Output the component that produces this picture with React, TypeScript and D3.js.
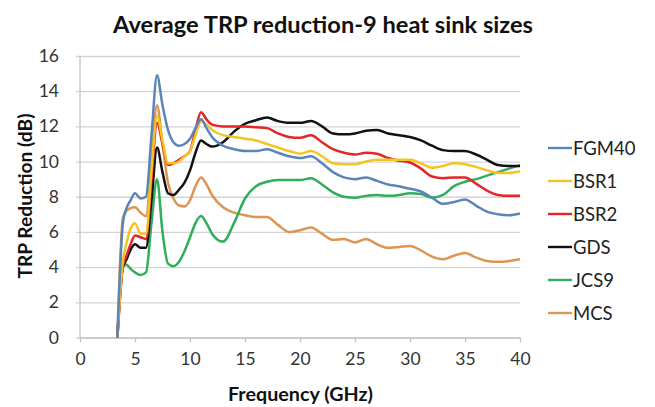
import React, { useEffect, useRef } from "react";
import * as d3 from "d3";

// frequency points (GHz) shared by all series
const freq = [
  3.4, 3.9, 4.2, 4.6, 5, 5.5, 6, 6.5, 7, 7.5, 8, 8.5, 9, 9.5, 10, 10.5, 11, 11.5, 12,
  13, 14, 15, 16, 17, 18, 19, 20, 21, 22, 23, 24, 25, 26, 27, 28, 29, 30, 31, 32, 33,
  34, 35, 36, 37, 38, 39, 40,
];

const fgm40 = [
  0, 6.5, 7.3, 7.8, 8.2, 7.9, 8.0, 11.5, 14.9, 13.2, 11.8, 11.1, 10.9, 11.0, 11.3, 11.9, 12.4, 11.9, 11.4,
  10.9, 10.7, 10.6, 10.6, 10.7, 10.5, 10.3, 10.2, 10.3, 9.9, 9.4, 9.1, 9.0, 9.1, 8.9, 8.7, 8.6, 8.45, 8.3, 7.95, 7.6,
  7.7, 7.85, 7.5, 7.15, 7.0, 6.95, 7.05,
];
const bsr1 = [
  0, 4.3, 5.3, 6.2, 6.5, 5.9, 5.9, 9.5, 12.6, 11.2, 9.9, 9.9, 10.0, 10.3, 10.6, 11.5, 12.3, 12.1, 11.8,
  11.5, 11.4, 11.3, 11.2, 11.0, 10.8, 10.6, 10.45, 10.6, 10.3, 9.9, 9.85, 9.85, 10.0, 10.1, 10.1, 10.1, 10.1, 9.9, 9.65, 9.75,
  9.9, 9.85, 9.7, 9.5, 9.35, 9.35, 9.45,
];
const bsr2 = [
  0, 4.1, 4.6, 5.3, 5.8, 5.7, 5.6, 9.0, 12.2, 11.0, 9.8, 9.9, 10.1, 10.3, 10.6, 11.8, 12.8, 12.4, 12.1,
  12.0, 12.0, 12.0, 11.95, 11.9, 11.6, 11.4, 11.35, 11.5, 11.1, 10.7, 10.5, 10.4, 10.5, 10.45, 10.2, 10.05, 9.95, 9.6, 9.15, 9.05,
  9.1, 9.1, 8.75, 8.35, 8.1, 8.05, 8.05,
];
const gds = [
  0, 4.0, 4.4, 5.0, 5.3, 5.1, 5.1, 7.8, 10.8, 9.4, 8.2, 8.1, 8.4, 8.8, 9.5, 10.5, 11.2, 11.0, 10.85,
  11.1, 11.7, 12.15, 12.35, 12.5, 12.3, 12.2, 12.2, 12.3, 12.0, 11.6, 11.55, 11.6, 11.75, 11.8, 11.6, 11.5, 11.4, 11.2, 10.9, 10.65,
  10.6, 10.6, 10.4, 10.1, 9.8, 9.75, 9.75,
];
const jcs9 = [
  0, 4.0, 4.15, 3.9, 3.7, 3.55, 3.7, 6.5, 9.0, 6.0, 4.2, 4.05, 4.3, 4.9, 5.7, 6.5, 6.9, 6.5, 5.9,
  5.45, 6.5, 7.9, 8.6, 8.85, 8.95, 8.95, 8.95, 9.05, 8.7, 8.25, 8.0, 7.95, 8.05, 8.1, 8.05, 8.1, 8.2, 8.15, 7.95, 8.1,
  8.6, 8.85, 9.0, 9.2, 9.4, 9.6, 9.8,
];
const mcs = [
  0, 6.8, 7.2, 7.35, 7.4, 7.1, 6.9, 10.0, 13.2, 11.0, 8.8, 7.9, 7.5, 7.45, 7.8, 8.6, 9.1, 8.7, 8.1,
  7.4, 7.1, 6.95, 6.85, 6.85, 6.4, 6.0, 6.1, 6.25, 5.9, 5.55, 5.6, 5.4, 5.6, 5.3, 5.1, 5.15, 5.2, 4.95, 4.6, 4.45,
  4.65, 4.8, 4.55, 4.35, 4.3, 4.35, 4.45,
];

const seriesNames = ["FGM40", "BSR1", "BSR2", "GDS", "JCS9", "MCS"];
const seriesValues = [fgm40, bsr1, bsr2, gds, jcs9, mcs];
const seriesColors = ["#5b84b8", "#f4c423", "#e3262a", "#111111", "#2fae5b", "#dc9552"];

const xTicks = [0, 5, 10, 15, 20, 25, 30, 35, 40];
const yTicks = [0, 2, 4, 6, 8, 10, 12, 14, 16];

const W = 655;
const H = 407;
const FONT = "Lato, 'Open Sans', sans-serif";

export default function App() {
  const svgRef = useRef<SVGSVGElement>(null);

  useEffect(() => {
    const svg = d3.select(svgRef.current);
    svg.selectAll("*").remove();

    const x = d3.scaleLinear().domain([0, 40]).range([80, 520]);
    const y = d3.scaleLinear().domain([0, 16]).range([337.5, 56]);

    // title
    svg
      .append("text")
      .attr("x", 323)
      .attr("y", 33)
      .attr("text-anchor", "middle")
      .attr("font-family", FONT)
      .attr("font-weight", "bold")
      .attr("font-size", 22)
      .attr("fill", "#111")
      .attr("textLength", 420)
      .attr("lengthAdjust", "spacingAndGlyphs")
      .text("Average TRP reduction-9 heat sink sizes");

    // gridlines + y tick labels
    const gy = svg
      .append("g")
      .attr("transform", "translate(520,0)")
      .call(d3.axisLeft(y).tickValues(yTicks).tickSize(444).tickSizeOuter(0).tickPadding(17));
    gy.select(".domain").remove();
    gy.selectAll(".tick line").attr("stroke", "#d4d4d4").attr("stroke-width", 1.3);
    gy.selectAll(".tick text")
      .attr("font-family", FONT)
      .attr("font-size", 17.5)
      .attr("fill", "#333");

    // y axis line
    svg
      .append("line")
      .attr("x1", x(0))
      .attr("x2", x(0))
      .attr("y1", y(16))
      .attr("y2", y(0))
      .attr("stroke", "#c4c4c4")
      .attr("stroke-width", 1.3);

    // x axis
    const gx = svg
      .append("g")
      .attr("transform", `translate(0,${y(0)})`)
      .call(d3.axisBottom(x).tickValues(xTicks).tickSize(5).tickSizeOuter(0).tickPadding(10));
    gx.select(".domain").attr("stroke", "#c4c4c4").attr("stroke-width", 1.3);
    gx.selectAll(".tick line").attr("stroke", "#c4c4c4").attr("stroke-width", 1.3);
    gx.selectAll(".tick text")
      .attr("font-family", FONT)
      .attr("font-size", 17.5)
      .attr("fill", "#333");

    // axis titles
    svg
      .append("text")
      .attr("x", 300.5)
      .attr("y", 401)
      .attr("text-anchor", "middle")
      .attr("font-family", FONT)
      .attr("font-weight", "bold")
      .attr("font-size", 18)
      .attr("fill", "#111")
      .attr("textLength", 145)
      .attr("lengthAdjust", "spacingAndGlyphs")
      .text("Frequency (GHz)");

    svg
      .append("text")
      .attr("transform", "translate(32,196) rotate(-90)")
      .attr("text-anchor", "middle")
      .attr("font-family", FONT)
      .attr("font-weight", "bold")
      .attr("font-size", 18)
      .attr("fill", "#111")
      .attr("textLength", 165)
      .attr("lengthAdjust", "spacingAndGlyphs")
      .text("TRP Reduction (dB)");

    // series lines
    const line = d3
      .line<number>()
      .x((_, i) => x(freq[i]))
      .y((d) => y(d))
      .curve(d3.curveMonotoneX);

    // draw orange/green first so the others sit on top like the original
    const order = [5, 4, 3, 2, 1, 0];
    svg
      .append("g")
      .selectAll("path")
      .data(order)
      .enter()
      .append("path")
      .attr("d", (k) => line(seriesValues[k]))
      .attr("fill", "none")
      .attr("stroke", (k) => seriesColors[k])
      .attr("stroke-width", 2.5)
      .attr("stroke-linejoin", "round");

    // legend
    const lg = svg
      .append("g")
      .selectAll("g")
      .data(seriesNames)
      .enter()
      .append("g")
      .attr("transform", (_, i) => `translate(548,${148 + i * 33})`);
    lg.append("line")
      .attr("x1", 0)
      .attr("x2", 24)
      .attr("stroke", (_, i) => seriesColors[i])
      .attr("stroke-width", 2.4);
    lg.append("text")
      .attr("x", 25)
      .attr("dy", "0.36em")
      .attr("font-family", FONT)
      .attr("font-size", 18.5)
      .attr("fill", "#222")
      .text((d) => d);
  }, []);

  return (
    <svg
      ref={svgRef}
      width={W}
      height={H}
      style={{ position: "absolute", left: 0, top: 0, background: "#fff" }}
    />
  );
}
